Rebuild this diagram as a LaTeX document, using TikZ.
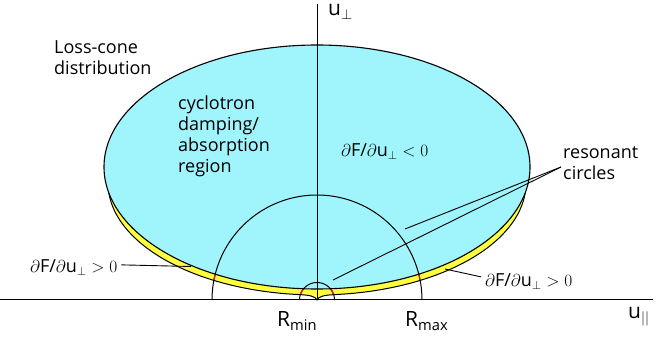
\documentclass[tikz,border=0pt]{standalone}
\usepackage{fontspec}
\setmainfont{Open Sans}
\usetikzlibrary{positioning, calc}

\definecolor{conecyan}{RGB}{160,244,252}
\definecolor{rimyellow}{RGB}{255,255,64}

\newcommand{\dFdu}{$\partial$F/$\partial$u$_\perp$}

\begin{document}
\begin{tikzpicture}[x=1pt, y=-1pt,
    lbl/.style={font=\fontsize{18}{21}\selectfont, inner sep=0pt, align=left},
    axlbl/.style={font=\fontsize{21}{24}\selectfont, inner sep=0pt},
    axis/.style={line width=1pt},
    leader/.style={line width=0.9pt},
]
\useasboundingbox (0,0) rectangle (669,344);
\coordinate (O) at (317,300);

%% Yellow rim of the distribution (with the loss-cone cusp)
\def\rimpath{plot[domain=180:95, samples=70] ({317+209*cos(\x)}, {183+112*sin(\x)})
  .. controls (310,295) and (315.5,296.5) .. (O)
  .. controls (318.5,296.5) and (324,295) .. (335.2,294.6)
  -- plot[domain=85:0, samples=70] ({317+209*cos(\x)}, {183+112*sin(\x)})}
\fill[rimyellow] \rimpath -- cycle;

%% Cyan absorption region
\fill[conecyan] (317,167) ellipse (213pt and 122pt);

%% Resonant circles
\foreach \r in {17.5,105} {
  \draw[line width=1pt] plot[domain=0:180, samples=80] ({317+\r*cos(\x)}, {300-\r*sin(\x)});
}
%% Red where the circles cross the rim, rim outline outside the cyan part
\begin{scope}[even odd rule]
  \clip (317,167) ellipse (213pt and 122pt) (-10,-10) rectangle (680,360);
  \begin{scope}
    \clip \rimpath -- cycle;
    \foreach \r in {17.5,105} {
      \draw[red, line width=1.2pt] plot[domain=0:180, samples=80] ({317+\r*cos(\x)}, {300-\r*sin(\x)});
    }
  \end{scope}
  \draw[line width=1pt] \rimpath;
\end{scope}
\draw[line width=1.1pt] (317,167) ellipse (213pt and 122pt);

%% Axes
\coordinate (xend) at (653,300);
\coordinate (xstart) at (0,300);
\coordinate (ytop) at (317,4);
\draw[axis] (xstart) -- (xend);
\draw[axis] (O) -- (ytop);
\node[axlbl, anchor=base west] (uperp) at (328,16) {u$_\perp$};
\node[axlbl, anchor=base west] (upar) at (628,319) {u$_{||}$};

%% Labels
\node[lbl, anchor=base west] (losscone) at (54,75) {Loss-cone\\distribution};
\node[lbl, anchor=base west] (cyclo) at (178,173) {cyclotron\\damping/\\absorption\\region};
\node[lbl, anchor=base west] (negslope) at (341,157) {\dFdu{} $<0$};
\node[lbl, anchor=base west] (posleft) at (30,273) {\dFdu{} $>0$};
\node[lbl, anchor=base west] (posright) at (485,287) {\dFdu{} $>0$};
\node[lbl, anchor=base west] (reson) at (563,180) {resonant\\circles};
\node[axlbl, anchor=base west] (rmin) at (277,327) {R\textsubscript{min}};
\node[axlbl, anchor=base west] (rmax) at (405,327) {R\textsubscript{max}};

%% Leaders
\coordinate (leftrim) at (191,266.5);
\coordinate (rightrim) at (445,269);
\coordinate (smallres) at (333,280);
\coordinate (bigres) at (405,229);
\coordinate (resfoot) at (561,167);
\draw[leader] (posleft.east) ++(4,-3) -- (leftrim);
\draw[leader] (posright.west) ++(-4,-5) -- (rightrim);
\draw[leader] (resfoot) -- (smallres);
\draw[leader] (resfoot) -- (bigres);
\end{tikzpicture}
\end{document}
